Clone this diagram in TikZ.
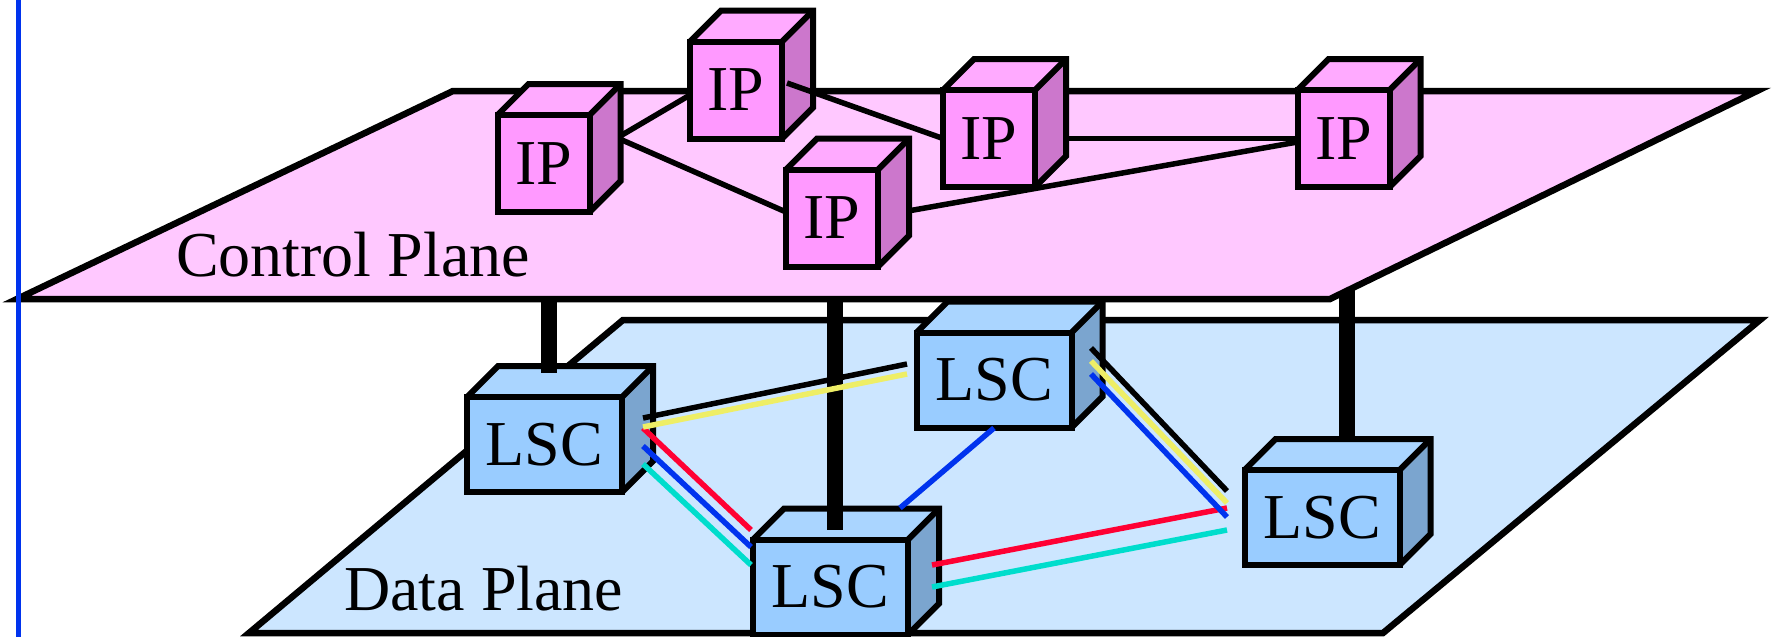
\documentclass[tikz,border=0pt]{standalone}
\usepackage{fontspec}
\setmainfont{Liberation Serif}
\usetikzlibrary{calc}
\definecolor{cpfill}{HTML}{FFC8FF}
\definecolor{ipfront}{HTML}{FF99FF}
\definecolor{iptop}{HTML}{FFAAFF}
\definecolor{ipside}{HTML}{CC77CC}
\definecolor{dpfill}{HTML}{CCE6FF}
\definecolor{lscfront}{HTML}{99CCFF}
\definecolor{lsctop}{HTML}{AAD5FF}
\definecolor{lscside}{HTML}{7BA5CF}
\definecolor{lblue}{HTML}{0033EE}
\definecolor{lred}{HTML}{FF0033}
\definecolor{lcyan}{HTML}{00DDCC}
\definecolor{lyellow}{HTML}{EEEE66}
\tikzset{
  plane/.style={draw, line width=6.5pt, line join=miter},
  face/.style={draw, line width=6pt, line join=miter},
  ipbox/.style={face, fill=ipfront, minimum width=92pt, minimum height=97pt,
    inner sep=0pt, outer sep=0pt, font=\fontsize{64}{64}\selectfont},
  lscbox/.style={face, fill=lscfront, minimum width=155pt, minimum height=95pt,
    inner sep=0pt, outer sep=0pt, font=\fontsize{64}{64}\selectfont},
  ipline/.style={line width=5.5pt},
  link/.style={line width=5.5pt},
  riser/.style={line width=16pt},
  planelabel/.style={font=\fontsize{64}{64}\selectfont, inner sep=0pt, anchor=base west},
}
% #1 node name, #2 top colour, #3 side colour
\newcommand\cubefaces[3]{%
  \fill[#2] (#1.north west) -- ++(31,-31) -- ($(#1.north east)+(31,-31)$) -- (#1.north east) -- cycle;
  \fill[#3] (#1.north east) -- ++(31,-31) -- ($(#1.south east)+(31,-31)$) -- (#1.south east) -- cycle;
  \draw[face] (#1.north west) -- ++(31,-31) -- ($(#1.north east)+(31,-31)$) -- ($(#1.south east)+(31,-31)$) -- (#1.south east);
  \draw[face] (#1.north east) -- ++(31,-31);
  \draw[face] (#1.north west) -- (#1.north east) -- (#1.south east);
}
\begin{document}
\begin{tikzpicture}[x=1pt, y=-1pt]
\useasboundingbox (0,0) rectangle (1773,637);
% plane corners
\coordinate (cpbl) at (17,299);
\coordinate (cpbr) at (1330,299);
\coordinate (cptr) at (1757,91);
\coordinate (cptl) at (453,91);
\coordinate (dpbl) at (249,633);
\coordinate (dpbr) at (1383,633);
\coordinate (dptr) at (1760,320);
\coordinate (dptl) at (623,320);

% data plane
\draw[plane, fill=dpfill] (dpbl) -- (dpbr) -- (dptr) -- (dptl) -- cycle;
\node[planelabel] (dplabel) at (344,610) {Data Plane};

% LSC switches
\node[lscbox] (lsc1) at (544.5,444.5) {LSC};
\cubefaces{lsc1}{lsctop}{lscside}
\node[lscbox] (lsc2) at (994,380) {LSC};
\cubefaces{lsc2}{lsctop}{lscside}
\node[lscbox] (lsc3) at (830.5,587) {LSC};
\cubefaces{lsc3}{lsctop}{lscside}
\node[lscbox] (lsc4) at (1322,517.5) {LSC};
\cubefaces{lsc4}{lsctop}{lscside}

% risers from control plane to LSCs
\coordinate (r1) at ($(lsc1.north)+(4,-24)$);
\coordinate (r3) at ($(lsc3.north)+(4.5,-9.5)$);
\coordinate (r4) at ($(lsc4.north)+(25,-32.5)$);
\draw[riser] (r1 |- cptl) -- (r1);
\draw[riser] (r3 |- cptl) -- (r3);
\draw[riser] (r4 |- cptl) -- (r4);

% control plane
\draw[plane, fill=cpfill] (cpbl) -- (cpbr) -- (cptr) -- (cptl) -- cycle;
\node[planelabel] (cplabel) at (176,276) {Control Plane};

% LSC links
\draw[link, black]   ($(lsc1.east)+(21,-26.5)$) -- ($(lsc2.west)+(-9.5,-16)$);
\draw[link, lred]    ($(lsc1.east)+(21,-16.5)$) -- ($(lsc3.west)+(-2,-57)$);
\draw[link, lyellow] ($(lsc1.east)+(21,-17.5)$) -- ($(lsc2.west)+(-9.5,-6)$);
\draw[link, lblue]   ($(lsc1.east)+(21,1.5)$)   -- ($(lsc3.west)+(-2,-40)$);
\draw[link, lcyan]   ($(lsc1.east)+(21,19.5)$)  -- ($(lsc3.west)+(-2,-22)$);
\draw[link, lblue]   ($(lsc2.south)+(0,0.5)$)   -- ($(lsc3.north)+(69.5,-31.5)$);
\draw[link, lred]    ($(lsc3.east)+(24,-22)$)   -- ($(lsc4.west)+(-17.5,-9.5)$);
\draw[link, lcyan]   ($(lsc3.east)+(24,0)$)     -- ($(lsc4.west)+(-17.5,12.5)$);
\draw[link, black]   ($(lsc2.east)+(19.5,-32)$) -- ($(lsc4.west)+(-17.5,-26.5)$);
\draw[link, lyellow] ($(lsc2.east)+(19.5,-19)$) -- ($(lsc4.west)+(-17.5,-14.5)$);
\draw[link, lblue]   ($(lsc2.east)+(19.5,-6)$)  -- ($(lsc4.west)+(-17.5,-0.5)$);

% IP routers
\node[ipbox] (ip1) at (543.5,163.5) {IP};
\node[ipbox] (ip2) at (736,90) {IP};
\node[ipbox] (ip4) at (832,218) {IP};
\node[ipbox] (ip5) at (1343.5,138.5) {IP};
\draw[ipline] ($(ip1.east)+(32.5,-28.5)$) -- ($(ip2.west)+(0,5)$);
\draw[ipline] ($(ip1.east)+(32.5,-23.5)$) -- ($(ip4.west)+(0,-6)$);
\draw[ipline] ($(ip4.east)+(30,-7)$) -- ($(ip5.west)+(0,3.5)$);
\node[ipbox] (ip3) at (989,138.5) {IP};
\draw[ipline] (ip3.east) -- (ip5.west);
\cubefaces{ip1}{iptop}{ipside}
\cubefaces{ip2}{iptop}{ipside}
\cubefaces{ip4}{iptop}{ipside}
\cubefaces{ip3}{iptop}{ipside}
\cubefaces{ip5}{iptop}{ipside}
\draw[ipline] ($(ip2.east)+(5,-7)$) -- (ip3.west);

% left margin rule
\draw[lblue, line width=5pt] (18,0) -- (18,637);
\end{tikzpicture}
\end{document}
